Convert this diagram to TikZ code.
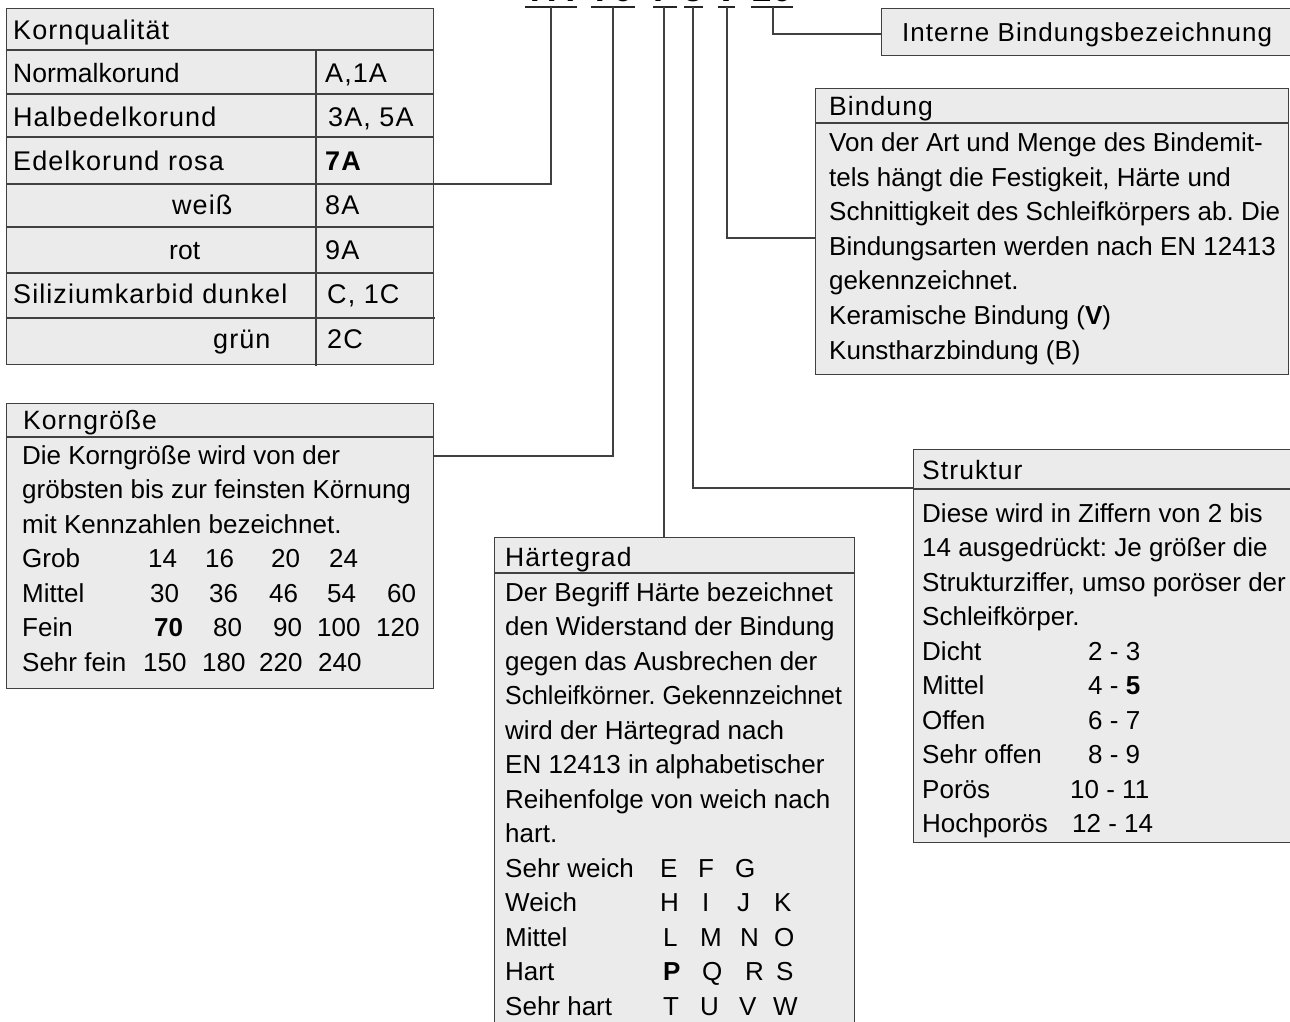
\documentclass[tikz,border=0pt]{standalone}
\usepackage{fontspec}
\setmainfont{Liberation Sans}
\newfontfamily\widefont[LetterSpace=4]{Liberation Sans}
\newcommand\tb[2]{\leavevmode\rlap{\hspace*{#1}#2}}
\newcommand\bodysize{\fontsize{26}{34.5}\selectfont}
\begin{document}
\frenchspacing
\begin{tikzpicture}[x=1pt,y=-1pt,
  box/.style={draw=black!75, fill=black!8, line width=1.2pt, anchor=north west, inner sep=0pt},
  rule/.style={draw=black!75, line width=1.2pt},
  conn/.style={draw=black!75, line width=1.2pt},
  uline/.style={draw=black!85, line width=1.4pt},
  code/.style={font=\fontsize{36}{40}\selectfont\bfseries, anchor=base, inner sep=0pt},
  kqtext/.style={font=\widefont\fontsize{27}{32}\selectfont, anchor=base west, inner sep=0pt},
  head/.style={font=\widefont\fontsize{26.5}{32}\selectfont, anchor=base west, inner sep=0pt},
  intext/.style={font=\widefont\fontsize{26}{32}\selectfont, anchor=base west, inner sep=0pt},
  plain/.style={font=\fontsize{26.5}{32}\selectfont, anchor=base west, inner sep=0pt},
  body/.style={font=\bodysize, anchor=base west, inner sep=0pt, align=left}
]
\useasboundingbox (0,0) rectangle (1290,1022);
\clip (0,0) rectangle (1290,1022);

% ---------- code line at the top ----------
\node[code] (t7A) at (551,2) {7A};
\node[code] (t70) at (613,2) {70};
\node[code] (tP)  at (665,2) {P};
\node[code] (t5)  at (693.5,2) {5};
\node[code] (tV)  at (726.5,2) {V};
\node[code] (t10) at (772,2) {10};
\draw[uline] (525,7) -- (577,7);
\draw[uline] (591,7) -- (635,7);
\draw[uline] (653,7) -- (677,7);
\draw[uline] (684,7) -- (703,7);
\draw[uline] (718,7) -- (735,7);
\draw[uline] (751,7) -- (793,7);
\coordinate (c7A) at (551,7);
\coordinate (c70) at (613,7);
\coordinate (cP)  at (664,7);
\coordinate (c5)  at (693,7);
\coordinate (cV)  at (727,7);
\coordinate (c10) at (773,7);

% ---------- Kornqualität table ----------
\node[box, minimum width=427pt, minimum height=356pt] (kq) at (6,8) {};
\foreach \yy in {50,94,137,227,273} \draw[rule] (6,\yy) -- (433,\yy);
\draw[rule] (6,184) -- (433,184);
\draw[rule] (6,318) -- (435,318);
\draw[rule] (316,50) -- (316,366);
\node[kqtext] (kqh) at (13,40) {Kornqualität};
\node[plain]  (kq1) at (13,83) {Normalkorund};
\node[kqtext] (kq2) at (13,127) {Halbedelkorund};
\node[kqtext] (kq3) at (13,171) {Edelkorund rosa};
\node[kqtext] (kq4) at (172,214) {weiß};
\node[plain]  (kq5) at (169,259) {rot};
\node[kqtext] (kq6) at (13,303) {Siliziumkarbid dunkel};
\node[kqtext] (kq7) at (213,348) {grün};
\node[kqtext] (kv1) at (325,83) {A,1A};
\node[kqtext] (kv2) at (328,127) {3A, 5A};
\node[kqtext] (kv3) at (325,171) {\bfseries 7A};
\node[kqtext] (kv4) at (325,214) {8A};
\node[kqtext] (kv5) at (325,259) {9A};
\node[kqtext] (kv6) at (327,303) {C, 1C};
\node[kqtext] (kv7) at (327,348) {2C};

% ---------- Korngröße ----------
\node[box, minimum width=427pt, minimum height=285pt] (kg) at (6,403) {};
\draw[rule] (6,437) -- (433,437);
\node[head] (kgh) at (23,429) {Korngröße};
\node[body] (kgb) at (22,464) {\parbox[t]{600pt}{\bodysize
Die Korngröße wird von der\\
gröbsten bis zur feinsten Körnung\\
mit Kennzahlen bezeichnet.\\
\tb{0pt}{Grob}\tb{126pt}{14}\tb{183pt}{16}\tb{249pt}{20}\tb{307pt}{24}\\
\tb{0pt}{Mittel}\tb{128pt}{30}\tb{187pt}{36}\tb{247pt}{46}\tb{305pt}{54}\tb{365pt}{60}\\
\tb{0pt}{Fein}\tb{132pt}{\bfseries 70}\tb{191pt}{80}\tb{251pt}{90}\tb{295pt}{100}\tb{354pt}{120}\\
\tb{0pt}{Sehr fein}\tb{121pt}{150}\tb{180pt}{180}\tb{237pt}{220}\tb{296pt}{240}}};

% ---------- Härtegrad ----------
\node[box, minimum width=360pt, minimum height=500pt] (hg) at (494,537) {};
\draw[rule] (494,573) -- (854,573);
\node[head] (hgh) at (505,566) {Härtegrad};
\node[body] (hgb) at (505,601) {\parbox[t]{600pt}{\bodysize
Der Begriff Härte bezeichnet\\
den Widerstand der Bindung\\
gegen das Ausbrechen der\\
\scalebox{0.955}[1]{Schleifkörner. Gekennzeichnet}\\
wird der Härtegrad nach\\
EN 12413 in alphabetischer\\
Reihenfolge von weich nach\\
hart.\\
\tb{0pt}{Sehr weich}\tb{155pt}{E}\tb{193pt}{F}\tb{230pt}{G}\\
\tb{0pt}{Weich}\tb{155pt}{H}\tb{197pt}{I}\tb{232pt}{J}\tb{269pt}{K}\\
\tb{0pt}{Mittel}\tb{158pt}{L}\tb{195pt}{M}\tb{235pt}{N}\tb{269pt}{O}\\
\tb{0pt}{Hart}\tb{158pt}{\bfseries P}\tb{197pt}{Q}\tb{240pt}{R}\tb{271pt}{S}\\
\tb{0pt}{Sehr hart}\tb{158pt}{T}\tb{195pt}{U}\tb{234pt}{V}\tb{268pt}{W}}};

% ---------- Interne Bindungsbezeichnung ----------
\node[box, minimum width=420pt, minimum height=47pt] (ib) at (881,8) {};
\node[intext] (ibt) at (902,42) {Interne Bindungsbezeichnung};

% ---------- Bindung ----------
\node[box, minimum width=473pt, minimum height=286pt] (bd) at (815,88) {};
\draw[rule] (815,123) -- (1288,123);
\node[head] (bdh) at (829,116) {Bindung};
\node[body] (bdb) at (829,152) {\parbox[t]{600pt}{\bodysize
Von der Art und Menge des Bindemit-\\
tels hängt die Festigkeit, Härte und\\
Schnittigkeit des Schleifkörpers ab. Die\\
Bindungsarten werden nach EN 12413\\
gekennzeichnet.\\
Keramische Bindung (\textbf{V})\\
Kunstharzbindung (B)}};

% ---------- Struktur ----------
\node[box, minimum width=390pt, minimum height=393pt] (st) at (913,449) {};
\draw[rule] (913,489) -- (1303,489);
\node[head] (sth) at (922,479) {Struktur};
\node[body] (stb) at (922,522) {\parbox[t]{600pt}{\bodysize
Diese wird in Ziffern von 2 bis\\
14 ausgedrückt: Je größer die\\
Strukturziffer, umso poröser der\\
Schleifkörper.\\
\tb{0pt}{Dicht}\tb{166pt}{2 - 3}\\
\tb{0pt}{Mittel}\tb{166pt}{4 - \textbf{5}}\\
\tb{0pt}{Offen}\tb{166pt}{6 - 7}\\
\tb{0pt}{Sehr offen}\tb{166pt}{8 - 9}\\
\tb{0pt}{Porös}\tb{148pt}{10 - 11}\\
\tb{0pt}{Hochporös}\tb{150pt}{12 - 14}}};

% ---------- connectors ----------
\coordinate (kqend) at (433,184);
\coordinate (kgend) at (433,456);
\coordinate (bdend) at (815,238);
\coordinate (stend) at (913,488);
\coordinate (ibend) at (881,34);
\draw[conn] (c7A) |- (kqend);
\draw[conn] (c70) |- (kgend);
\draw[conn] (cP) -- (cP |- hg.north);
\draw[conn] (c5) |- (stend);
\draw[conn] (cV) |- (bdend);
\draw[conn] (c10) |- (ibend);
\end{tikzpicture}
\end{document}
